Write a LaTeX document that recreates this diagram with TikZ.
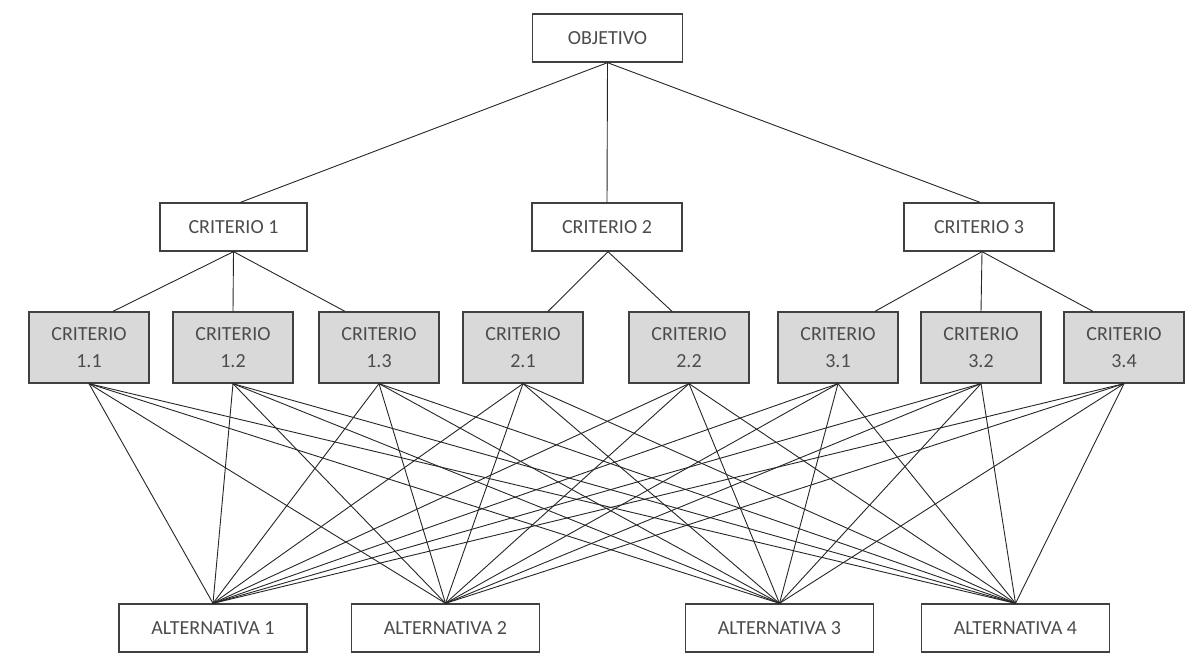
\documentclass[tikz,border=0pt]{standalone}
\usepackage{fontspec}
\setmainfont{Carlito}
\begin{document}
\begin{tikzpicture}[x=1pt,y=-1pt,
  box/.style={draw=black!75,line width=1.3pt,fill=white,inner sep=0pt,
    font=\fontsize{20}{27}\selectfont,text=black!70,align=center},
  top/.style={box,minimum width=150pt,minimum height=48pt},
  sub/.style={box,fill=black!15,minimum width=120pt,minimum height=71pt},
  alt/.style={box,minimum width=188pt,minimum height=48pt},
  link/.style={draw=black!85,line width=0.9pt}]
\useasboundingbox (0,0) rectangle (1185,653);
% nodes
\node[top] (obj) at (607.5,38) {OBJETIVO};
\node[top,minimum width=147pt] (c1) at (233.5,227) {CRITERIO 1};
\node[top] (c2) at (607,227) {CRITERIO 2};
\node[top] (c3) at (979,227) {CRITERIO 3};
\node[sub] (c11) at (89,347.5) {CRITERIO\\1.1};
\node[sub] (c12) at (233,347.5) {CRITERIO\\1.2};
\node[sub] (c13) at (379,347.5) {CRITERIO\\1.3};
\node[sub] (c21) at (523,347.5) {CRITERIO\\2.1};
\node[sub] (c22) at (689,347.5) {CRITERIO\\2.2};
\node[sub] (c31) at (838,347.5) {CRITERIO\\3.1};
\node[sub] (c32) at (981,347.5) {CRITERIO\\3.2};
\node[sub] (c34) at (1124,347.5) {CRITERIO\\3.4};
\node[alt] (a1) at (213,628) {ALTERNATIVA 1};
\node[alt] (a2) at (445.5,628) {ALTERNATIVA 2};
\node[alt] (a3) at (779.5,628) {ALTERNATIVA 3};
\node[alt] (a4) at (1015.5,628) {ALTERNATIVA 4};
% upper connectors
\draw[link] (obj.south) -- ([xshift=7pt]c1.north);
\draw[link] (obj.south) -- (c2.north);
\draw[link] (obj.south) -- ([xshift=1pt]c3.north);
\draw[link] (c1.south) -- ([xshift=24pt]c11.north);
\draw[link] (c1.south) -- (c12.north);
\draw[link] (c1.south) -- ([xshift=-34pt]c13.north);
\draw[link] ([xshift=1pt]c2.south) -- ([xshift=25pt]c21.north);
\draw[link] ([xshift=1pt]c2.south) -- ([xshift=-17pt]c22.north);
\draw[link] ([xshift=3pt]c3.south) -- ([xshift=37pt]c31.north);
\draw[link] ([xshift=3pt]c3.south) -- (c32.north);
\draw[link] ([xshift=3pt]c3.south) -- ([xshift=-31pt]c34.north);
% lower connectors
\foreach \s in {c11,c12,c13,c21,c22,c31,c32,c34}{
  \foreach \a in {a1,a2,a3,a4}{
    \draw[link] (\s.south) -- (\a.north);
  }
}
\end{tikzpicture}
\end{document}
